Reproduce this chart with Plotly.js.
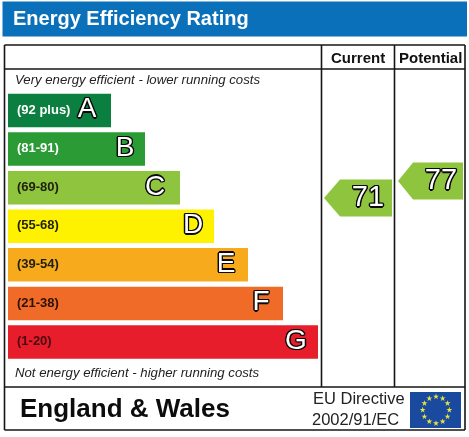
<!DOCTYPE html>
<html><head><meta charset="utf-8">
<script src="https://cdn.plot.ly/plotly-3.0.1.min.js"></script>
<style>html,body{margin:0;padding:0;background:#fff}#c{width:469px;height:437px;filter:blur(0.35px)}</style>
</head><body><div id="c"></div>
<script>
// ---- data ----
const bands = ["A","B","C","D","E","F","G"];
const ranges = ["(92 plus)","(81-91)","(69-80)","(55-68)","(39-54)","(21-38)","(1-20)"];
const barLengths = [103,137,172,206,240,275,310];
const letterX = [79,117,147,185,218,253,288];
const barColors = ["#0b7f40","#2b9b36","#8fc43f","#fff200","#f7ab1c","#ef6b27","#e71d2b"];
const rangeColors = ["#fff","#fff","#1f1f10","#1f1f10","#1f1f10","#2a1208","#4a0a10"];
const scoreLabels = ["Current","Potential"];
const scores = [71,77];
const starAngles = [0,30,60,90,120,150,180,210,240,270,300,330];
const starRadius = [1,1,1,1,1,1,1,1,1,1,1,1];

// ---- layout helpers ----
const W=469,H=437;
const fx=x=>x/W, fy=y=>1-y/H;
const d=1.4;
const outline = c => [[d,0],[-d,0],[0,d],[0,-d],[1,1],[-1,-1],[1,-1],[-1,1]].map(o=>o[0]+"px "+o[1]+"px 0 "+c).join(",");
const SANS='"Liberation Sans", Arial, sans-serif';

// arrow polygon in column coordinates (x axis = px-8, y axis = score)
const arrowGeom=[{tip:316,neck:332,end:384,tx:360},{tip:390,neck:405,end:455,tx:433}];
const halfH=6.54;
function arrow(i){
  const g=arrowGeom[i], s=scores[i];
  return {type:"scatter",mode:"lines",xaxis:"x",yaxis:"y2",fill:"toself",fillcolor:"#8fc43f",
    line:{width:0,color:"#8fc43f"},hoverinfo:"skip",showlegend:false,
    x:[g.tip,g.neck,g.end,g.end,g.neck,g.tip],
    y:[s,s+halfH,s+halfH,s-halfH,s-halfH,s]};
}

const traces=[
 {type:"bar",orientation:"h",y:bands,x:barLengths,width:0.87,marker:{color:barColors,line:{width:0}},
  hoverinfo:"skip",showlegend:false,xaxis:"x",yaxis:"y"},
 {type:"scatter",mode:"text",y:bands,x:bands.map(()=>9),text:ranges,textposition:"middle right",
  textfont:{family:SANS,size:13,weight:700,color:rangeColors},hoverinfo:"skip",showlegend:false,xaxis:"x",yaxis:"y"},
 {type:"scatter",mode:"text",y:bands,x:letterX,text:bands,textposition:"middle center",
  textfont:{family:SANS,size:28,color:"#fff",shadow:outline("#0a0a0a")},hoverinfo:"skip",showlegend:false,xaxis:"x",yaxis:"y"},
 arrow(0),arrow(1),
 {type:"scatter",mode:"text",xaxis:"x",yaxis:"y2",x:arrowGeom.map(g=>g.tx),y:scores.map(s=>s-0.3),text:scores.map(String),
  textposition:"middle center",textfont:{family:SANS,size:29,color:"#fff",shadow:outline("#0a0a0a")},hoverinfo:"skip",showlegend:false},
 {type:"scatterpolar",mode:"markers",r:starRadius,theta:starAngles,subplot:"polar",
  marker:{symbol:"star",size:4.5,color:"#e8e23c",line:{width:0}},hoverinfo:"skip",showlegend:false}
];

const line=(x0,y0,x1,y1,w)=>({type:"line",xref:"paper",yref:"paper",x0:fx(x0),x1:fx(x1),y0:fy(y0),y1:fy(y1),line:{color:"#151515",width:w||1.6},layer:"above"});
const rect=(x0,y0,x1,y1,c)=>({type:"rect",xref:"paper",yref:"paper",x0:fx(x0),x1:fx(x1),y0:fy(y0),y1:fy(y1),fillcolor:c,line:{width:0},layer:"below"});
const shapes=[
 rect(2.5,1.5,467,36.5,"#0a70b9"),
 rect(410,392,461,428,"#1a4aa0"),
 line(4.5,45,465,45),line(4.5,430,465,430),line(4.5,45,4.5,430),line(465,45,465,430),
 line(4.5,69,465,69),line(4.5,387,465,387),
 line(321.5,45,321.5,387),line(394.5,45,394.5,387)
];
const note=(x,y,t,o)=>Object.assign({xref:"paper",yref:"paper",x:fx(x),y:fy(y),text:t,showarrow:false,xanchor:"left",yanchor:"middle",
  font:{family:SANS,size:12,color:"#1c1c1c"},borderpad:0,borderwidth:0},o||{});
const annotations=[
 note(358,57,scoreLabels[0],{xanchor:"center",font:{family:SANS,size:15,weight:700,color:"#111"}}),
 note(430,57,scoreLabels[1],{xanchor:"center",font:{family:SANS,size:15,weight:700,color:"#111"}}),
 note(15,80,"<i>Very energy efficient - lower running costs</i>",{font:{family:SANS,size:13.2,color:"#222"}}),
 note(15,372,"<i>Not energy efficient - higher running costs</i>",{font:{family:SANS,size:13.2,color:"#222"}}),
 note(20,408,"England &amp; Wales",{font:{family:SANS,size:26,weight:700,color:"#0c0c0c"}}),
 note(313,398,"EU Directive",{font:{family:SANS,size:16.5,color:"#222"}}),
 note(312,419,"2002/91/EC",{font:{family:SANS,size:16.5,color:"#222"}})
];

const layout={
 width:W,height:H,margin:{l:0,r:0,t:0,b:0,pad:0},paper_bgcolor:"#fff",plot_bgcolor:"rgba(0,0,0,0)",showlegend:false,
 title:{text:"Energy Efficiency Rating",x:fx(13),xanchor:"left",xref:"paper",y:fy(18),yanchor:"middle",yref:"paper",
        font:{family:SANS,size:20,weight:700,color:"#fff"}},
 xaxis:{range:[-8,461],domain:[0,1],visible:false,fixedrange:true},
 yaxis:{type:"category",categoryorder:"array",categoryarray:bands,autorange:false,range:[6.5,-0.5],domain:[fy(361.3),fy(91.2)],visible:false,fixedrange:true},
 yaxis2:{overlaying:"y",range:[13.3,108.74],visible:false,fixedrange:true},
 polar:{domain:{x:[fx(436-14),fx(436+14)],y:[fy(410+14),fy(410-14)]},bgcolor:"rgba(0,0,0,0)",
   radialaxis:{visible:false,range:[0,1.05]},angularaxis:{visible:false}},
 shapes,annotations,bargap:0.13
};
Plotly.newPlot("c",traces,layout,{displayModeBar:false,staticPlot:true});
</script></body></html>
